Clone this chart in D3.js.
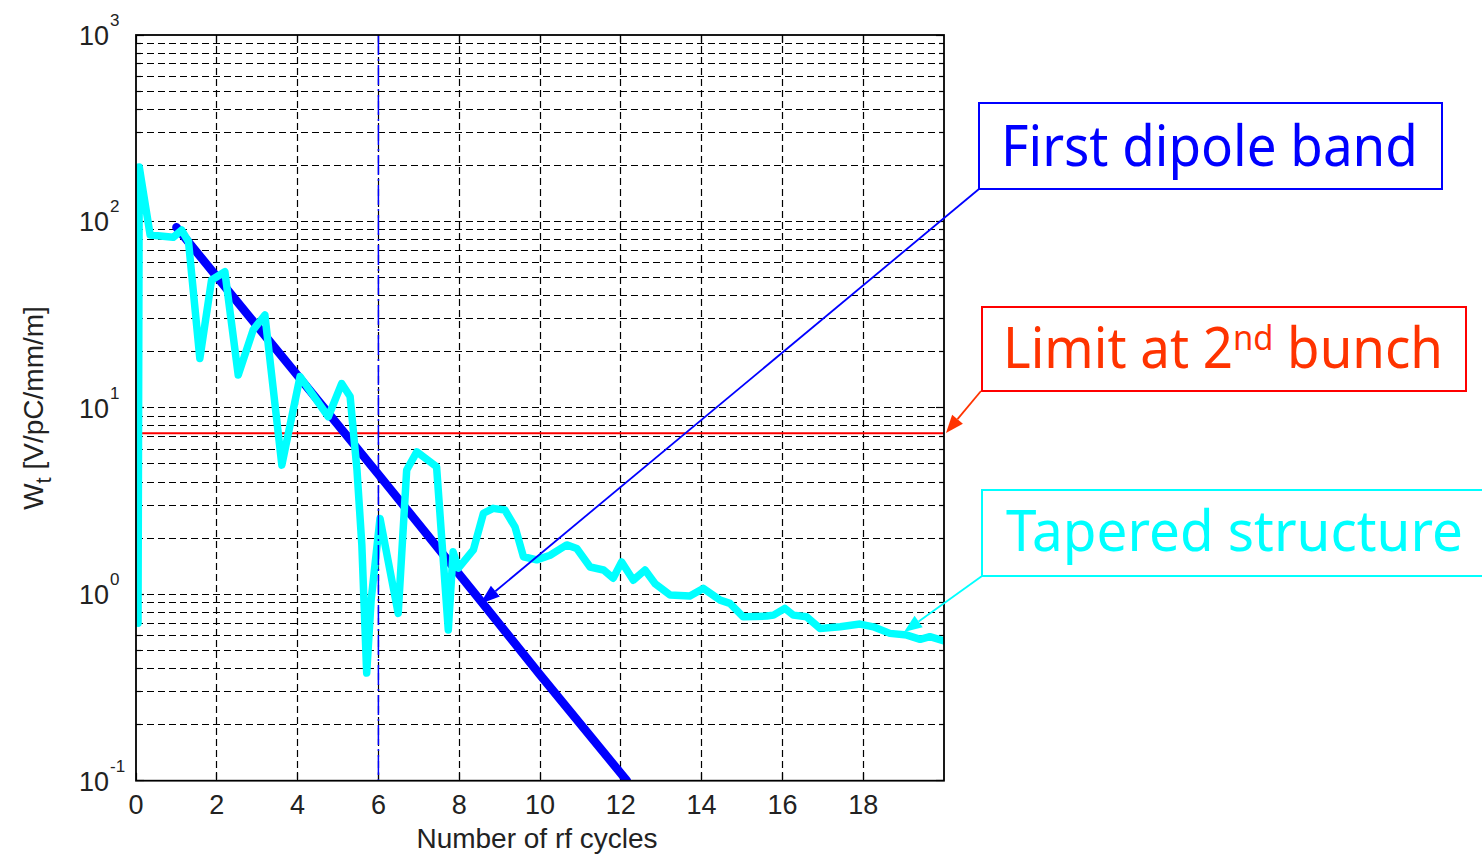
<!DOCTYPE html>
<html>
<head>
<meta charset="utf-8">
<script src="https://cdn.jsdelivr.net/npm/d3@7"></script>
<style>
  body { margin: 0; background: #fff; }
  svg { display: block; }
</style>
</head>
<body>
<svg id="chart" width="1482" height="858"></svg>
<script>
// Transverse wake W_t versus number of rf cycles (log scale)

const xTicks = [0, 2, 4, 6, 8, 10, 12, 14, 16, 18];
const yDecades = [-1, 0, 1, 2, 3];

// Tapered structure wake (cyan)
const taperX = [0.05, 0.08, 0.35, 0.92, 1.13, 1.30, 1.58, 1.87, 2.20, 2.53, 2.90, 3.19, 3.61, 4.06, 4.76,
  5.09, 5.30, 5.47, 5.59, 5.71, 5.82, 6.04, 6.49, 6.70, 6.95, 7.44, 7.73, 7.85, 7.98, 8.35, 8.60, 8.84,
  9.13, 9.38, 9.59, 9.92, 10.25, 10.66, 10.91, 11.24, 11.57, 11.81, 12.02, 12.31, 12.60, 12.85, 13.22,
  13.71, 14.04, 14.46, 14.70, 15.03, 15.61, 15.78, 16.06, 16.27, 16.60, 16.93, 17.43, 17.92, 18.25,
  18.66, 19.08, 19.41, 19.65, 20.0];
const taperW = [0.70, 196, 84.6, 82.2, 89.9, 77.8, 18.4, 48.5, 53.7, 15.0, 26.2, 31.5, 4.93, 14.7, 8.96,
  13.5, 11.5, 4.64, 1.84, 0.378, 0.93, 2.55, 0.79, 4.64, 5.81, 4.83, 0.643, 1.69, 1.38, 1.73, 2.72, 2.89,
  2.83, 2.30, 1.59, 1.53, 1.62, 1.84, 1.76, 1.40, 1.35, 1.22, 1.49, 1.19, 1.35, 1.14, 0.99,
  0.978, 1.075, 0.93, 0.894, 0.757, 0.764, 0.773, 0.84, 0.773, 0.757, 0.656, 0.669, 0.692, 0.669,
  0.617, 0.604, 0.573, 0.592, 0.563];

// First dipole band envelope (blue)
const dipoleX = [1.0, 4.0, 6.0, 8.5, 10.0, 12.15];
const dipoleW = [93, 14.9, 4.4, 0.94, 0.37, 0.1];

// Limit at the second bunch and the bunch position marker
const limitW = 7.3;
const bunchX = 6;

const svg = d3.select("#chart");
svg.append("rect").attr("width", 1482).attr("height", 858).attr("fill", "#fff");

const pL = 136, pR = 944, pT = 35, pB = 780.7;
const x = d3.scaleLinear().domain([0, 20]).range([pL, pR]);
const y = d3.scaleLog().domain([0.1, 1000]).range([pB, pT]);
// snap a coordinate to a pixel centre so thin rules render evenly
const snap = v => Math.round(v - 0.5) + 0.5;

const axisFont = "'Liberation Sans', Arial, sans-serif";

svg.append("defs").append("clipPath").attr("id", "plotClip")
  .append("rect").attr("x", pL).attr("y", pT).attr("width", pR - pL).attr("height", pB - pT);

// Grid
const grid = svg.append("g").attr("stroke", "#000").attr("stroke-width", 1.2)
  .attr("stroke-dasharray", "7,4").attr("fill", "none");
const yGridVals = [];
yDecades.forEach(k => {
  for (let m = 1; m <= 9; m++) {
    const v = m * Math.pow(10, k);
    if (v > 0.1 * 1.0001 && v < 1000 * 0.9999) yGridVals.push(v);
  }
});
grid.selectAll("line.h").data(yGridVals).join("line").attr("class", "h")
  .attr("x1", pL).attr("x2", pR).attr("y1", d => snap(y(d))).attr("y2", d => snap(y(d)));
grid.selectAll("line.v").data(xTicks.filter(d => d > 0)).join("line").attr("class", "v")
  .attr("x1", d => snap(x(d))).attr("x2", d => snap(x(d))).attr("y1", pT).attr("y2", pB);

// Ticks (inside, on all four sides)
const ticks = svg.append("g").attr("stroke", "#000").attr("stroke-width", 1.2);
xTicks.forEach(t => {
  const xx = snap(x(t));
  ticks.append("line").attr("x1", xx).attr("x2", xx).attr("y1", pB).attr("y2", pB - 8);
  ticks.append("line").attr("x1", xx).attr("x2", xx).attr("y1", pT).attr("y2", pT + 8);
});
yGridVals.concat([0.1, 1000]).forEach(v => {
  const major = Math.abs(Math.log10(v) - Math.round(Math.log10(v))) < 1e-6;
  const len = major ? 8 : 5;
  const yy = snap(y(v));
  ticks.append("line").attr("x1", pL).attr("x2", pL + len).attr("y1", yy).attr("y2", yy);
  ticks.append("line").attr("x1", pR).attr("x2", pR - len).attr("y1", yy).attr("y2", yy);
});

const plot = svg.append("g").attr("clip-path", "url(#plotClip)");

// Limit line
plot.append("line").attr("x1", x(0)).attr("x2", x(20)).attr("y1", y(limitW)).attr("y2", y(limitW))
  .attr("stroke", "#ff0000").attr("stroke-width", 2);

const line = d3.line().x(d => x(d[0])).y(d => y(d[1]));

// First dipole band
plot.append("path").datum(dipoleX.map((d, i) => [d, dipoleW[i]])).attr("d", line)
  .attr("fill", "none").attr("stroke", "#0000ff").attr("stroke-width", 8.5)
  .attr("stroke-linejoin", "round").attr("stroke-linecap", "round");

// Tapered structure
plot.append("path").datum(taperX.map((d, i) => [d, taperW[i]])).attr("d", line)
  .attr("fill", "none").attr("stroke", "#00ffff").attr("stroke-width", 7.5)
  .attr("stroke-linejoin", "round").attr("stroke-linecap", "round");

// Second bunch position
plot.append("line").attr("x1", x(bunchX)).attr("x2", x(bunchX)).attr("y1", pT).attr("y2", pB)
  .attr("stroke", "#0000ff").attr("stroke-width", 1.5).attr("stroke-dasharray", "20,4,2,4");

// Axes box
svg.append("rect").attr("x", pL).attr("y", pT).attr("width", pR - pL).attr("height", pB - pT)
  .attr("fill", "none").attr("stroke", "#000").attr("stroke-width", 1.8);

// Tick labels
svg.append("g").selectAll("text").data(xTicks).join("text")
  .attr("x", d => x(d)).attr("y", 814).attr("text-anchor", "middle")
  .attr("font-family", axisFont).attr("font-size", 27).attr("fill", "#222")
  .text(d => d);

const yl = svg.append("g").attr("font-family", axisFont).attr("fill", "#222");
yDecades.forEach(k => {
  const yy = y(Math.pow(10, k));
  yl.append("text").attr("x", 109).attr("y", yy + 10).attr("text-anchor", "end")
    .attr("font-size", 27).text("10");
  yl.append("text").attr("x", 110).attr("y", yy - 9).attr("font-size", 17).text(k);
});

// Axis titles
svg.append("text").attr("x", 537).attr("y", 848).attr("text-anchor", "middle")
  .attr("font-family", axisFont).attr("font-size", 28).attr("fill", "#222")
  .text("Number of rf cycles");

const yt = svg.append("text").attr("transform", "translate(43,408) rotate(-90)")
  .attr("text-anchor", "middle").attr("font-family", axisFont).attr("font-size", 28).attr("fill", "#222");
yt.append("tspan").text("W");
yt.append("tspan").attr("dy", 8).attr("font-size", 22).text("t");
yt.append("tspan").attr("dy", -8).text(" [V/pC/mm/m]");

// Annotations
const noteFont = "'Comic Sans MS', 'Noto Sans', 'Open Sans', sans-serif";

function note(x0, baseline, width, parts, size, color) {
  const g = svg.append("g");
  const t = g.append("text").attr("x", 0).attr("y", 0).attr("font-family", noteFont)
    .attr("font-size", size).attr("fill", color);
  parts.forEach(p => {
    const s = t.append("tspan").text(p.text);
    if (p.sup) s.attr("font-size", size * 0.62).attr("dy", -size * 0.32);
    if (p.after) s.attr("dy", size * 0.32);
  });
  const w = t.node().getComputedTextLength();
  g.attr("transform", `translate(${x0},${baseline}) scale(${width / w},1)`);
}

function arrow(x1, y1, x2, y2, color, len, half) {
  const ang = Math.atan2(y2 - y1, x2 - x1);
  const bx = x2 - len * Math.cos(ang), by = y2 - len * Math.sin(ang);
  svg.append("line").attr("x1", x1).attr("y1", y1).attr("x2", bx).attr("y2", by)
    .attr("stroke", color).attr("stroke-width", 1.8);
  const px = -Math.sin(ang) * half, py = Math.cos(ang) * half;
  svg.append("path")
    .attr("d", `M${x2},${y2}L${bx + px},${by + py}L${bx - px},${by - py}Z`)
    .attr("fill", color);
}

// First dipole band
svg.append("rect").attr("x", 979).attr("y", 103).attr("width", 463).attr("height", 86)
  .attr("fill", "#fff").attr("stroke", "#0000ff").attr("stroke-width", 2);
note(1001, 166, 417, [{ text: "First dipole band" }], 57, "#0000ff");
arrow(979, 189, 480, 604, "#0000ff", 20, 7);

// Limit at 2nd bunch
svg.append("rect").attr("x", 982).attr("y", 307).attr("width", 484).attr("height", 84)
  .attr("fill", "#fff").attr("stroke", "#ff0000").attr("stroke-width", 2);
note(1003, 368, 440, [{ text: "Limit at 2" }, { text: "nd", sup: true }, { text: " bunch", after: true }], 57, "#ff3300");
arrow(981, 391, 946, 433, "#ff3300", 18, 7);

// Tapered structure
svg.append("rect").attr("x", 982).attr("y", 490).attr("width", 520).attr("height", 86)
  .attr("fill", "#fff").attr("stroke", "#00ffff").attr("stroke-width", 2);
note(1006, 551, 457, [{ text: "Tapered structure" }], 57, "#00ffff");
arrow(982, 576, 904, 632, "#00ffff", 18, 7);
</script>
</body>
</html>
